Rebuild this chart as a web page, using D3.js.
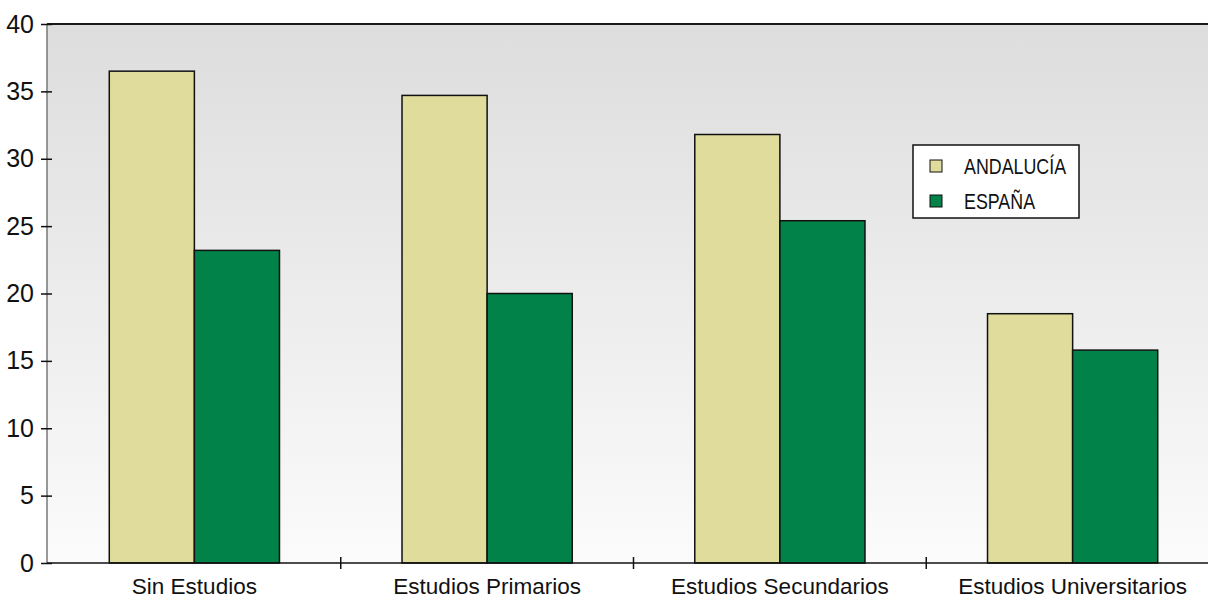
<!DOCTYPE html>
<html>
<head>
<meta charset="utf-8">
<script src="https://cdn.jsdelivr.net/npm/d3@7"></script>
<style>
  html, body { margin: 0; padding: 0; background: #ffffff; }
  svg { display: block; }
  text { font-family: "Liberation Sans", Arial, sans-serif; fill: #111; }
</style>
</head>
<body>
<svg id="chart" width="1208" height="601"></svg>
<script>
// Nivel de estudios: Andalucía frente a España (%)
const categories = ["Sin Estudios", "Estudios Primarios", "Estudios Secundarios", "Estudios Universitarios"];
const seriesNames = ["ANDALUCÍA", "ESPAÑA"];
const andalucia = [36.5, 34.7, 31.8, 18.5];
const espana = [23.2, 20.0, 25.4, 15.8];
const yTicks = [0, 5, 10, 15, 20, 25, 30, 35, 40];
const colors = ["#e0dc9c", "#008248"];

const svg = d3.select("#chart");
const W = 1208, H = 601;
const plot = { left: 48, right: 1219, top: 24, bottom: 563 };

const x = d3.scaleBand().domain(categories).range([plot.left, plot.right]).paddingInner(0).paddingOuter(0);
const xs = d3.scaleBand().domain(seriesNames).range([0, x.bandwidth()]).paddingInner(0).paddingOuter(0.72);
const y = d3.scaleLinear().domain([0, 40]).range([plot.bottom, plot.top]);

// background gradient
const defs = svg.append("defs");
const grad = defs.append("linearGradient").attr("id", "bg").attr("x1", 0).attr("y1", 0).attr("x2", 0).attr("y2", 1);
grad.append("stop").attr("offset", "0%").attr("stop-color", "#dddddd");
grad.append("stop").attr("offset", "100%").attr("stop-color", "#fbfbfb");

svg.append("rect")
  .attr("x", plot.left - 1).attr("y", plot.top)
  .attr("width", W - plot.left + 1).attr("height", plot.bottom - plot.top)
  .attr("fill", "url(#bg)");

// top border
svg.append("line")
  .attr("x1", plot.left - 1).attr("x2", W)
  .attr("y1", plot.top).attr("y2", plot.top)
  .attr("stroke", "#1a1a1a").attr("stroke-width", 2);

// bars
const rows = categories.map((c, i) => ({ cat: c, vals: [andalucia[i], espana[i]] }));
const groups = svg.append("g").selectAll("g").data(rows).join("g")
  .attr("transform", d => `translate(${x(d.cat)},0)`);
groups.selectAll("rect")
  .data(d => d.vals.map((v, j) => ({ name: seriesNames[j], v, j })))
  .join("rect")
  .attr("x", d => xs(d.name))
  .attr("width", xs.bandwidth())
  .attr("y", d => y(d.v))
  .attr("height", d => y(0) - y(d.v))
  .attr("fill", d => colors[d.j])
  .attr("stroke", "#111")
  .attr("stroke-width", 1.5);

// y axis
svg.append("line")
  .attr("x1", plot.left - 1).attr("x2", plot.left - 1)
  .attr("y1", plot.top).attr("y2", plot.bottom)
  .attr("stroke", "#777").attr("stroke-width", 1.5);
const yAxis = svg.append("g").attr("transform", `translate(${plot.left - 1},0)`)
  .call(d3.axisLeft(y).tickValues(yTicks).tickSize(0).tickPadding(13));
yAxis.select(".domain").remove();
yAxis.selectAll(".tick line").remove();
yAxis.selectAll(".tick").append("line")
  .attr("x1", -6).attr("x2", 5).attr("stroke", "#111").attr("stroke-width", 1.5);
yAxis.selectAll("text").attr("font-size", 25).attr("fill", "#111")
  .style("font-family", "'Liberation Sans', Arial, sans-serif");

// x axis
svg.append("line")
  .attr("x1", plot.left - 1).attr("x2", W)
  .attr("y1", plot.bottom).attr("y2", plot.bottom)
  .attr("stroke", "#111").attr("stroke-width", 1.5);
const xAxis = svg.append("g").attr("transform", `translate(0,${plot.bottom})`)
  .call(d3.axisBottom(x).tickSize(0).tickPadding(15));
xAxis.select(".domain").remove();
xAxis.selectAll("text").attr("font-size", 22.5).attr("fill", "#111")
  .style("font-family", "'Liberation Sans', Arial, sans-serif");
// separators between categories
svg.append("g").selectAll("line").data(categories.slice(1)).join("line")
  .attr("x1", d => x(d)).attr("x2", d => x(d))
  .attr("y1", plot.bottom - 6).attr("y2", plot.bottom + 6)
  .attr("stroke", "#111").attr("stroke-width", 1.5);

// legend
const lg = svg.append("g").attr("transform", "translate(913,145)");
lg.append("rect").attr("width", 166).attr("height", 73)
  .attr("fill", "#ffffff").attr("stroke", "#111").attr("stroke-width", 1.5);
const items = lg.selectAll("g").data(seriesNames).join("g")
  .attr("transform", (d, i) => `translate(0,${21 + i * 35})`);
items.append("rect").attr("x", 17).attr("y", -6).attr("width", 12).attr("height", 12)
  .attr("fill", (d, i) => colors[i]).attr("stroke", "#111").attr("stroke-width", 1);
// condensed label text
items.append("text")
  .attr("transform", "translate(51,8) scale(0.83,1)")
  .attr("font-size", 21.5).text(d => d);
</script>
</body>
</html>
